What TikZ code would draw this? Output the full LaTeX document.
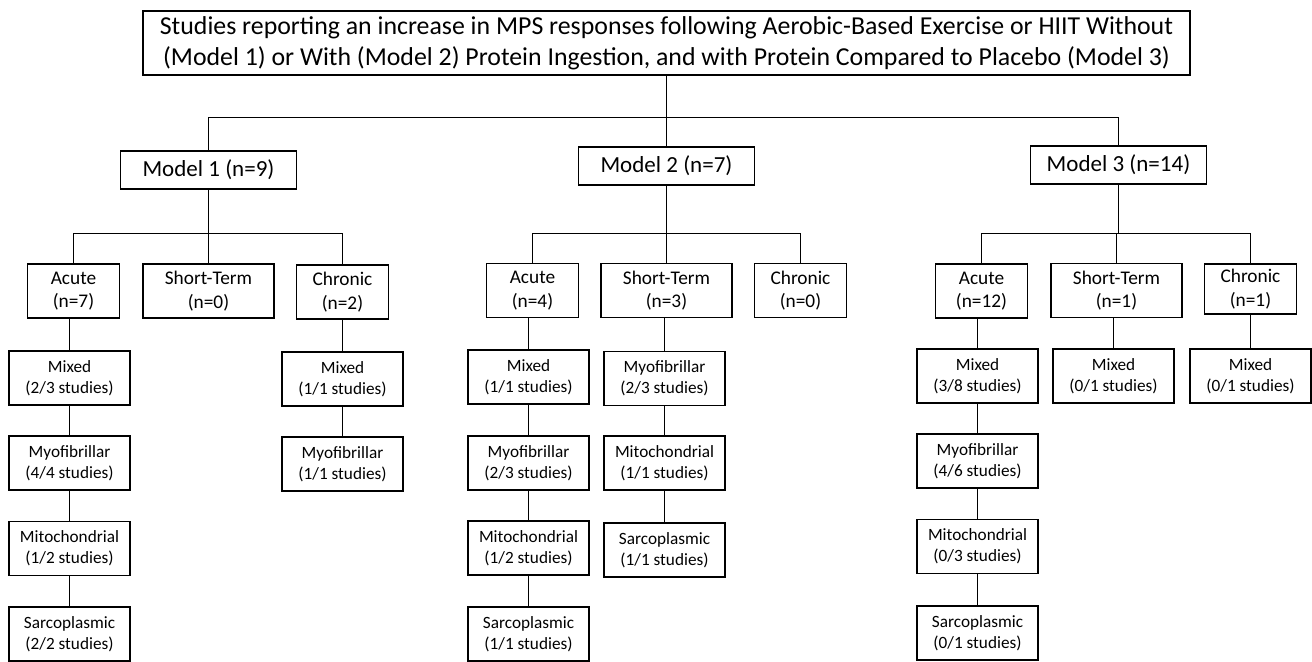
\documentclass[tikz,border=0pt]{standalone}
\usepackage{fontspec}
\setmainfont{Carlito}
\usepackage{tikz}

\begin{document}
\begin{tikzpicture}[x=0.02cm,y=-0.02cm,line width=0.6pt,
	box/.style={draw,line width=0.7pt,inner sep=0pt,align=center},
	title/.style={box,minimum width=20.94cm,minimum height=1.28cm,font=\fontsize{14.7}{17.5}\selectfont},
	model/.style={box,minimum width=3.52cm,minimum height=0.76cm,font=\fontsize{13.1}{15.5}\selectfont},
	period/.style={box,minimum width=1.84cm,minimum height=1.08cm,font=\fontsize{11}{13.3}\selectfont},
	fraction/.style={box,minimum width=2.42cm,minimum height=1.08cm,font=\fontsize{9.8}{12}\selectfont}]
	\useasboundingbox (0,0) rectangle (1312,662);
	%
	\node[title] (top) at (666.5,43) {Studies reporting an increase in MPS responses following Aerobic-Based Exercise or HIIT Without\\(Model 1) or With (Model 2) Protein Ingestion, and with Protein Compared to Placebo (Model 3)};
	%
	\node[model] (m1) at (208.5,170) {Model 1 (n=9)};
	\node[model] (m2) at (666.5,166) {Model 2 (n=7)};
	\node[model] (m3) at (1118.5,165) {Model 3 (n=14)};
	%
	\node[period] (m1a) at (73.5,291) {Acute\\(n=7)};
	\node[period,minimum width=2.62cm] (m1s) at (208.5,291) {Short-Term\\(n=0)};
	\node[period] (m1c) at (342.5,292) {Chronic\\(n=2)};
	\node[period] (m2a) at (532.5,290.5) {Acute\\(n=4)};
	\node[period,minimum width=2.62cm] (m2s) at (666.5,290.5) {Short-Term\\(n=3)};
	\node[period] (m2c) at (800.5,290.5) {Chronic\\(n=0)};
	\node[period] (m3a) at (981.5,291) {Acute\\(n=12)};
	\node[period,minimum width=2.62cm] (m3s) at (1116.5,290.5) {Short-Term\\(n=1)};
	\node[period,minimum height=1.0cm] (m3c) at (1250.5,289) {Chronic\\(n=1)};
	%
	\node[fraction] (m1a1) at (69.5,378) {Mixed\\(2/3 studies)};
	\node[fraction] (m1a2) at (69.5,463) {Myofibrillar\\(4/4 studies)};
	\node[fraction] (m1a3) at (69.5,548.5) {Mitochondrial\\(1/2 studies)};
	\node[fraction] (m1a4) at (69.5,634) {Sarcoplasmic\\(2/2 studies)};
	\node[fraction] (m1c1) at (342.5,379) {Mixed\\(1/1 studies)};
	\node[fraction] (m1c2) at (342.5,464) {Myofibrillar\\(1/1 studies)};
	%
	\node[fraction] (m2a1) at (528.5,377) {Mixed\\(1/1 studies)};
	\node[fraction] (m2a2) at (528.5,463) {Myofibrillar\\(2/3 studies)};
	\node[fraction] (m2a3) at (528.5,548) {Mitochondrial\\(1/2 studies)};
	\node[fraction] (m2a4) at (528.5,634) {Sarcoplasmic\\(1/1 studies)};
	\node[fraction] (m2s1) at (664.5,378.5) {Myofibrillar\\(2/3 studies)};
	\node[fraction] (m2s2) at (664.5,463) {Mitochondrial\\(1/1 studies)};
	\node[fraction] (m2s3) at (664.5,550) {Sarcoplasmic\\(1/1 studies)};
	%
	\node[fraction] (m3a1) at (977.5,376) {Mixed\\(3/8 studies)};
	\node[fraction] (m3a2) at (977.5,461) {Myofibrillar\\(4/6 studies)};
	\node[fraction] (m3a3) at (977.5,546.5) {Mitochondrial\\(0/3 studies)};
	\node[fraction] (m3a4) at (977.5,633) {Sarcoplasmic\\(0/1 studies)};
	\node[fraction] (m3s1) at (1113.5,376) {Mixed\\(0/1 studies)};
	\node[fraction] (m3c1) at (1250.5,376) {Mixed\\(0/1 studies)};
	%
	\draw (top.south) -- ++(0,41.5) coordinate (b0);
	\foreach \m in {m1,m2,m3} \draw (b0) -| (\m.north);
	\draw (m1.south) -- ++(0,43.5) coordinate (b1);
	\foreach \d in {m1a,m1s,m1c} \draw (b1) -| (\d.north);
	\draw (m2.south) -- ++(0,47.5) coordinate (b2);
	\foreach \d in {m2a,m2s,m2c} \draw (b2) -| (\d.north);
	\draw (m3.south) -- ++(0,48.5) coordinate (b3);
	\foreach \d in {m3a,m3s,m3c} \draw (b3) -| (\d.north);
	%
	\foreach \a/\b in {m1a/m1a1,m1c/m1c1,m2a/m2a1,m2s/m2s1,m3a/m3a1,m3s/m3s1,m3c/m3c1}
		\draw (\b.north |- \a.south) -- (\b.north);
	\foreach \a/\b in {m1a1/m1a2,m1a2/m1a3,m1a3/m1a4,m1c1/m1c2,m2a1/m2a2,m2a2/m2a3,m2a3/m2a4,m2s1/m2s2,m2s2/m2s3,m3a1/m3a2,m3a2/m3a3,m3a3/m3a4}
		\draw (\a) -- (\b);
\end{tikzpicture}
\end{document}
